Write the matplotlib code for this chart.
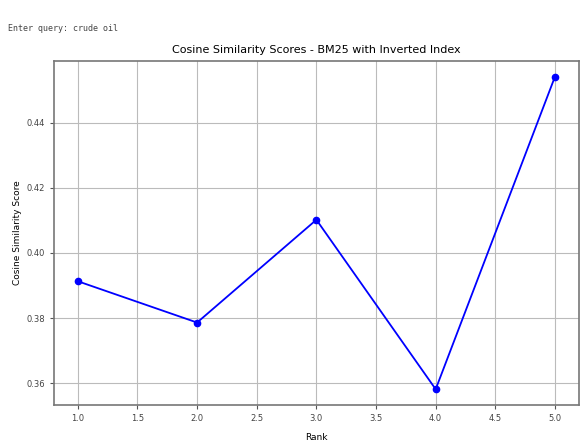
import matplotlib.pyplot as plt

# === data ===
ranks = [1, 2, 3, 4, 5]
scores = [0.3913, 0.3786, 0.4102, 0.3581, 0.4542]

query_text = "Enter query: crude oil"
title = "Cosine Similarity Scores - BM25 with Inverted Index"

fig = plt.figure(figsize=(5.8, 4.42), dpi=100)
ax = fig.add_axes([0.093, 0.084, 0.905, 0.778])

ax.plot(ranks, scores, marker='o', linestyle='-', color='blue',
        linewidth=1.3, markersize=4.5)

ax.set_title(title, fontsize=8, pad=6)
ax.set_xlabel("Rank", fontsize=6.5, labelpad=7)
ax.set_ylabel("Cosine Similarity Score", fontsize=6.5, labelpad=3)
ax.tick_params(labelsize=6, length=3, color='#555555', labelcolor='#444444')
ax.set_xticks([1.0, 1.5, 2.0, 2.5, 3.0, 3.5, 4.0, 4.5, 5.0])
ax.set_yticks([0.36, 0.38, 0.40, 0.42, 0.44])
ax.grid(True, color='#bbbbbb', linewidth=0.8)
for s in ax.spines.values():
    s.set_color('#777777')
    s.set_linewidth(1.2)

fig.text(0.014, 0.93, query_text, family='DejaVu Sans Mono', fontsize=6,
         color='#444444')

fig.savefig("out.png", dpi=100)
